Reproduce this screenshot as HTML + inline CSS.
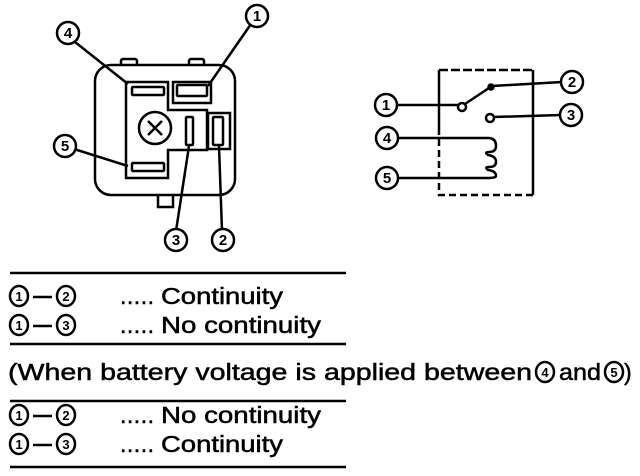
<!DOCTYPE html>
<html><head><meta charset="utf-8"><style>
html,body{margin:0;padding:0;background:#fff;}
svg{display:block;}
text{font-family:"Liberation Sans",Arial,sans-serif;fill:#000;}
</style></head><body>
<svg width="640" height="476" viewBox="0 0 640 476" xmlns="http://www.w3.org/2000/svg">
<g fill="none" stroke="#000" stroke-width="2.5">
  <rect x="121" y="59" width="16" height="8" rx="2"/>
  <rect x="189" y="59" width="15" height="8" rx="2"/>
  <rect x="158" y="194" width="15" height="13"/>
  <rect x="95" y="65" width="140" height="130" rx="16" fill="#fff"/>
  <polygon points="126,82 168,82 168,110 207,110 207,150 168,150 168,178 126,178"/>
  <rect x="173" y="82" width="38" height="21"/>
  <rect x="208" y="113" width="22" height="36"/>
  <rect x="132" y="87" width="32" height="8" rx="1"/>
  <rect x="177" y="85" width="30" height="11" rx="1"/>
  <rect x="132" y="163" width="32" height="8" rx="1"/>
  <rect x="186" y="117" width="7" height="28" rx="1"/>
  <rect x="213" y="117" width="10" height="28" rx="1"/>
  <circle cx="155" cy="128" r="16"/>
  <path d="M148,121 L162,135 M162,121 L148,135"/>
  <path d="M75,42 L128,84 M251,24 L208,86 M74,149 L128,166 M176,231 L189,146 M222,231 L219,146"/>
  <circle cx="68" cy="33" r="11" fill="#fff"/>
  <circle cx="257" cy="16" r="11" fill="#fff"/>
  <circle cx="65" cy="146" r="11" fill="#fff"/>
  <circle cx="176" cy="240" r="11" fill="#fff"/>
  <circle cx="223" cy="240" r="11" fill="#fff"/>
  <path d="M439,70 V128"/>
  <path d="M439,128 V195 H533" stroke-dasharray="7,4"/>
  <path d="M439,70 H533" stroke-dasharray="9,3"/>
  <path d="M533,70 V195"/>
  <path d="M396,105 H458"/>
  <circle cx="462" cy="107" r="4" fill="#fff"/>
  <path d="M465,104 L492,86 L562,82"/>
  <circle cx="491" cy="87" r="2.5" fill="#000"/>
  <circle cx="490" cy="118" r="4" fill="#fff"/>
  <path d="M494,117 L561,115"/>
  <path d="M397,138 H488 Q496,138 496,146 Q496,152 489,152 Q484,152 488,155 Q496,156 496,162 Q496,167 489,167 Q484,167 488,170 Q496,171 496,176 Q496,178 488,178 H397"/>
  <circle cx="386" cy="105" r="11" fill="#fff"/>
  <circle cx="572" cy="82" r="11" fill="#fff"/>
  <circle cx="571" cy="115" r="11" fill="#fff"/>
  <circle cx="387" cy="138" r="11" fill="#fff"/>
  <circle cx="387" cy="178" r="11" fill="#fff"/>
  <path d="M10,273 H346 M10,344 H346 M10,401 H346 M10,467 H346"/>
  <ellipse cx="19" cy="296" rx="9" ry="10"/><ellipse cx="66" cy="296" rx="9" ry="10"/>
  <ellipse cx="19" cy="325" rx="9" ry="10"/><ellipse cx="66" cy="325" rx="9" ry="10"/>
  <ellipse cx="19" cy="415" rx="9" ry="10"/><ellipse cx="66" cy="415" rx="9" ry="10"/>
  <ellipse cx="19" cy="444" rx="9" ry="10"/><ellipse cx="66" cy="444" rx="9" ry="10"/>
  <ellipse cx="545" cy="372" rx="9" ry="10"/><ellipse cx="614" cy="372" rx="9" ry="10"/>
  <path d="M33,297 H52 M33,326 H52 M33,416 H52 M33,445 H52" stroke-width="2.5"/>
</g>
<g font-weight="bold" font-size="15" text-anchor="middle">
  <text x="68" y="38">4</text><text x="257" y="21">1</text><text x="65" y="151">5</text>
  <text x="176" y="245">3</text><text x="223" y="245">2</text>
  <text x="386" y="110">1</text><text x="572" y="87">2</text><text x="571" y="120">3</text>
  <text x="387" y="143">4</text><text x="387" y="183">5</text>
</g>
<g font-weight="bold" font-size="13" text-anchor="middle">
  <text x="19" y="301">1</text><text x="66" y="301">2</text>
  <text x="19" y="330">1</text><text x="66" y="330">3</text>
  <text x="19" y="420">1</text><text x="66" y="420">2</text>
  <text x="19" y="449">1</text><text x="66" y="449">3</text>
  <text x="545" y="377">4</text><text x="614" y="377">5</text>
</g>
<g font-size="23" stroke="#000" stroke-width="0.5">
  <text x="120" y="304" textLength="34">.....</text>
  <text x="161" y="304" textLength="122" lengthAdjust="spacingAndGlyphs">Continuity</text>
  <text x="120" y="333" textLength="34">.....</text>
  <text x="161" y="333" textLength="160" lengthAdjust="spacingAndGlyphs">No continuity</text>
  <text x="8" y="380" textLength="524" lengthAdjust="spacingAndGlyphs">(When battery voltage is applied between</text>
  <text x="559" y="380" textLength="42" lengthAdjust="spacingAndGlyphs">and</text>
  <text x="624" y="380">)</text>
  <text x="120" y="423" textLength="34">.....</text>
  <text x="161" y="423" textLength="160" lengthAdjust="spacingAndGlyphs">No continuity</text>
  <text x="120" y="452" textLength="34">.....</text>
  <text x="161" y="452" textLength="122" lengthAdjust="spacingAndGlyphs">Continuity</text>
</g>
</svg>
</body></html>
